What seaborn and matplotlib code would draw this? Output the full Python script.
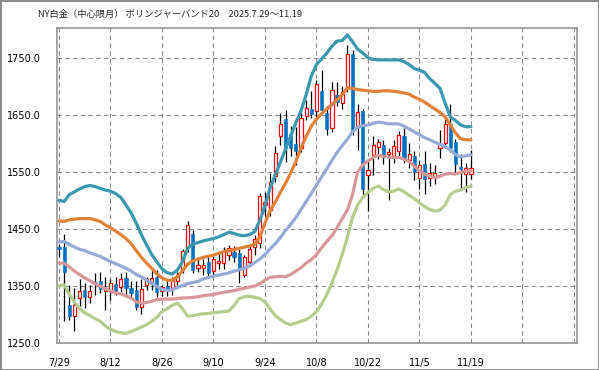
import numpy as np
import pandas as pd
import matplotlib
matplotlib.use("Agg")
import matplotlib.pyplot as plt
import seaborn as sns

# ── Data (NY platinum, daily, 2025-07-29 .. 2025-11-19) ──
TITLE = "NY白金（中心限月） ボリンジャーバンド20　2025.7.29～11.19"
tick_labels = ["7/29", "8/12", "8/26", "9/10", "9/24", "10/8", "10/22", "11/5", "11/19", "", ""]

open_ = [1418, 1419, 1317, 1297, 1329, 1343, 1330, 1357, 1359, 1342,
         1342, 1353, 1349, 1364, 1347, 1343, 1313, 1352, 1356, 1365,
         1342, 1350, 1346, 1359, 1378, 1418, 1441, 1381, 1382, 1392,
         1377, 1390, 1390, 1404, 1410, 1408, 1369, 1392, 1418, 1425,
         1492, 1483, 1542, 1612, 1643, 1617, 1599, 1591, 1647, 1660,
         1656, 1692, 1653, 1627, 1685, 1670, 1699, 1757, 1631, 1656,
         1545, 1579, 1593, 1597, 1581, 1578, 1587, 1612, 1571, 1578,
         1539, 1564, 1540, 1540, 1592, 1600, 1633, 1602, 1559, 1547, 1546]
high_ = [1424, 1441, 1352, 1346, 1363, 1355, 1352, 1372, 1375, 1366,
         1363, 1366, 1372, 1375, 1358, 1358, 1363, 1366, 1384, 1378,
         1352, 1358, 1366, 1375, 1415, 1464, 1448, 1400, 1398, 1402,
         1405, 1410, 1418, 1422, 1420, 1415, 1405, 1420, 1440, 1512,
         1514, 1548, 1596, 1653, 1659, 1630, 1629, 1653, 1676, 1691,
         1711, 1728, 1665, 1708, 1708, 1700, 1773, 1764, 1668, 1660,
         1569, 1612, 1608, 1605, 1591, 1605, 1622, 1626, 1600, 1587,
         1569, 1587, 1565, 1562, 1624, 1645, 1668, 1608, 1581, 1565, 1588]
low_ = [1400, 1288, 1291, 1271, 1314, 1311, 1320, 1334, 1337, 1308,
        1326, 1334, 1340, 1331, 1331, 1307, 1300, 1343, 1343, 1331,
        1332, 1332, 1334, 1352, 1372, 1410, 1372, 1375, 1370, 1366,
        1370, 1380, 1380, 1395, 1392, 1355, 1365, 1385, 1405, 1416,
        1472, 1472, 1533, 1597, 1568, 1577, 1562, 1585, 1640, 1645,
        1645, 1653, 1615, 1620, 1665, 1660, 1690, 1615, 1589, 1506,
        1481, 1545, 1573, 1563, 1500, 1565, 1575, 1565, 1557, 1535,
        1519, 1511, 1525, 1528, 1575, 1594, 1584, 1546, 1522, 1514, 1537]
close_ = [1414, 1375, 1298, 1317, 1341, 1330, 1341, 1353, 1345, 1345,
          1355, 1342, 1362, 1346, 1337, 1313, 1344, 1362, 1364, 1340,
          1349, 1343, 1360, 1369, 1412, 1456, 1378, 1386, 1386, 1372,
          1398, 1394, 1412, 1417, 1401, 1378, 1400, 1415, 1433, 1508,
          1497, 1533, 1583, 1634, 1591, 1591, 1587, 1644, 1662, 1652,
          1703, 1659, 1625, 1694, 1673, 1690, 1757, 1621, 1655, 1520,
          1553, 1597, 1602, 1582, 1585, 1596, 1615, 1575, 1581, 1549,
          1562, 1537, 1548, 1548, 1599, 1634, 1592, 1564, 1555, 1556, 1557]

upper2 = [1500, 1498, 1510, 1515, 1520, 1524, 1526, 1524, 1521, 1518,
          1516, 1512, 1505, 1492, 1478, 1460, 1440, 1422, 1405, 1392,
          1380, 1373, 1371, 1378, 1393, 1416, 1423, 1426, 1429, 1431,
          1433, 1436, 1440, 1444, 1442, 1439, 1438, 1440, 1445, 1465,
          1490, 1522, 1545, 1567, 1590, 1613, 1636, 1657, 1685, 1718,
          1738, 1748, 1758, 1770, 1779, 1780, 1790, 1778, 1765, 1758,
          1750, 1747, 1746, 1746, 1746, 1746, 1746, 1743, 1738, 1731,
          1728, 1724, 1713, 1705, 1696, 1670, 1646, 1640, 1632, 1629, 1629]
upper1 = [1464, 1463, 1466, 1467, 1468, 1468, 1468, 1466, 1463, 1457,
          1452, 1446, 1440, 1433, 1424, 1412, 1400, 1390, 1381, 1371,
          1364, 1360, 1360, 1366, 1377, 1388, 1394, 1397, 1400, 1402,
          1404, 1407, 1410, 1412, 1414, 1416, 1418, 1420, 1423, 1436,
          1460, 1482, 1497, 1514, 1530, 1548, 1568, 1592, 1612, 1630,
          1642, 1652, 1660, 1668, 1676, 1685, 1697, 1696, 1694, 1693,
          1692, 1691, 1691, 1692, 1692, 1691, 1690, 1688, 1686, 1681,
          1677, 1672, 1666, 1660, 1654, 1646, 1632, 1618, 1608, 1606, 1606]
middle = [1427, 1428, 1423, 1418, 1414, 1412, 1408, 1405, 1402, 1397,
          1393, 1389, 1385, 1381, 1376, 1370, 1366, 1360, 1355, 1349,
          1344, 1342, 1343, 1347, 1351, 1354, 1356, 1358, 1362, 1365,
          1367, 1369, 1371, 1373, 1376, 1378, 1381, 1385, 1391, 1397,
          1405, 1415, 1424, 1435, 1447, 1458, 1470, 1484, 1498, 1512,
          1527, 1541, 1555, 1570, 1584, 1596, 1607, 1620, 1628, 1631,
          1632, 1635, 1637, 1636, 1634, 1634, 1634, 1630, 1625, 1620,
          1615, 1610, 1606, 1602, 1598, 1594, 1589, 1580, 1576, 1578, 1580]
lower1 = [1390, 1390, 1383, 1376, 1370, 1364, 1359, 1354, 1350, 1345,
          1341, 1338, 1336, 1333, 1329, 1322, 1320, 1321, 1323, 1326,
          1327, 1327, 1327, 1328, 1329, 1329, 1330, 1331, 1333, 1334,
          1335, 1337, 1339, 1340, 1342, 1344, 1346, 1348, 1350, 1354,
          1360, 1365, 1366, 1367, 1366, 1370, 1376, 1382, 1390, 1396,
          1405, 1417, 1428, 1438, 1452, 1468, 1483, 1510, 1550, 1562,
          1569, 1575, 1579, 1577, 1576, 1575, 1575, 1572, 1568, 1560,
          1552, 1546, 1542, 1540, 1542, 1546, 1547, 1546, 1549, 1551, 1552]
lower2 = [1350, 1352, 1335, 1322, 1310, 1303, 1298, 1293, 1288, 1280,
          1274, 1270, 1268, 1267, 1270, 1274, 1278, 1282, 1288, 1295,
          1305, 1310, 1316, 1320, 1310, 1297, 1298, 1300, 1301, 1302,
          1303, 1304, 1305, 1306, 1316, 1328, 1331, 1332, 1330, 1328,
          1322, 1310, 1298, 1291, 1285, 1282, 1285, 1288, 1291, 1297,
          1305, 1318, 1335, 1355, 1378, 1405, 1435, 1470, 1492, 1505,
          1514, 1521, 1525, 1519, 1515, 1516, 1520, 1515, 1509, 1503,
          1496, 1489, 1484, 1481, 1483, 1492, 1510, 1516, 1518, 1522, 1525]

band_names = ["-2σ", "-1σ", "MA20", "+1σ", "+2σ"]
band_colors = ["#B5CC8E", "#D69898", "#96AAD6", "#E2823A", "#3B98AE"]

# ── Plot ────────────────────────────────────────────────────────────────────
sns.set_style("white")
plt.rcParams["font.family"] = ["DejaVu Sans"]

fig = plt.figure(figsize=(5.99, 3.70), dpi=100, edgecolor="#8c8c8c", linewidth=2)
ax = fig.add_axes([57 / 599, 1 - 343 / 370, 520 / 599, 315 / 370])

o, h, l, c = (np.array(a, dtype=float) for a in (open_, high_, low_, close_))
x = np.arange(len(c))
up = c >= o
body_lo = np.minimum(o, c)
body_h = np.abs(c - o)

# candles: black wicks, hollow red up-bodies, filled blue down-bodies
ax.vlines(x, l, h, color="black", linewidth=0.9, zorder=2)
ax.bar(x[up], body_h[up], bottom=body_lo[up], width=0.62, color="white",
       edgecolor="#FF0000", linewidth=0.9, zorder=3)
ax.bar(x[~up], body_h[~up], bottom=body_lo[~up], width=0.62, color="#0070C0",
       edgecolor="#0070C0", linewidth=0.4, zorder=3)

bands = pd.DataFrame({
    "day": np.tile(x, 5),
    "value": np.concatenate([lower2, lower1, middle, upper1, upper2]),
    "band": np.repeat(band_names, len(x)),
})
sns.lineplot(data=bands, x="day", y="value", hue="band", hue_order=band_names,
             palette=band_colors, linewidth=2.3, legend=False, ax=ax, zorder=4)

ax.set_xlim(-0.39, 100.6)
ax.set_ylim(1250, 1802)
ax.set_xticks(range(0, 101, 10))
ax.set_xticklabels(tick_labels)
ax.set_yticks(range(1250, 1751, 100))
ax.set_yticklabels([f"{v:.1f}" for v in range(1250, 1751, 100)])
ax.set_xlabel("")
ax.set_ylabel("")

ax.grid(True, color="#8c8c8c", linestyle=(0, (4, 3)), linewidth=0.8)
ax.set_axisbelow(True)
for s in ax.spines.values():
    s.set_color("#8c8c8c")
    s.set_linewidth(1.1)
ax.tick_params(axis="both", length=3, width=0.8, color="#8c8c8c",
               labelsize=7, labelcolor="black")
ax.tick_params(axis="y", pad=8.5)
ax.tick_params(axis="x", pad=8)

fig.text(38 / 599, 1 - 14 / 370, TITLE, fontsize=6.7, va="center", ha="left",
         family=["Noto Sans CJK JP", "DejaVu Sans"])

fig.savefig("out.png", dpi=100)
